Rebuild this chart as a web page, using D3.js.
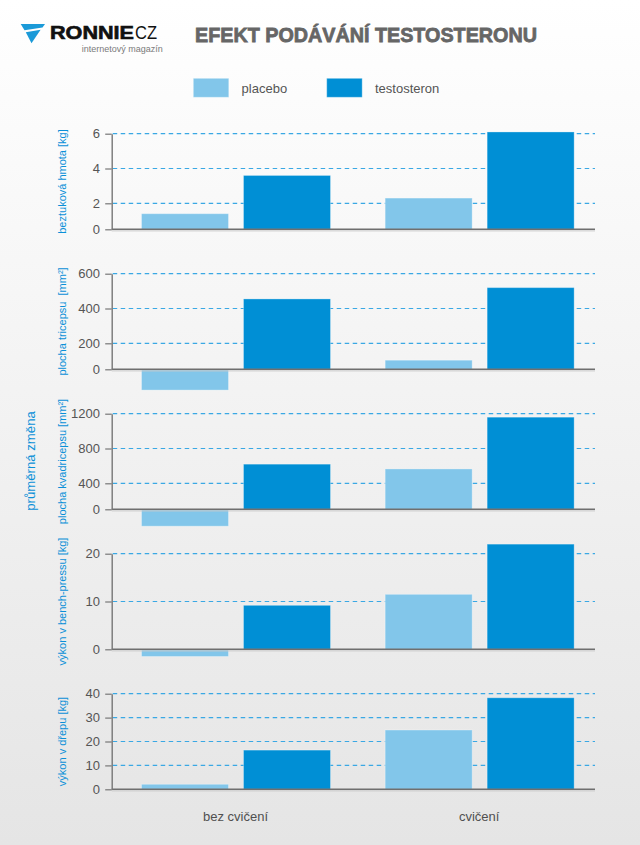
<!DOCTYPE html>
<html>
<head>
<meta charset="utf-8">
<script src="https://cdn.jsdelivr.net/npm/d3@7"></script>
<style>
html,body{margin:0;padding:0;}
svg{display:block;}
text{font-family:"Liberation Sans",Arial,Helvetica,sans-serif;}
</style>
</head>
<body>
<div id="chart"></div>
<script>
// ---- data ----
const categories = ["bez cvičení", "cvičení"];
const series = ["placebo", "testosteron"];
const metricLabels = ["beztuková hmota [kg]", "plocha tricepsu  [mm²]", "plocha kvadricepsu [mm²]", "výkon v bench-pressu [kg]", "výkon v dřepu [kg]"];
const placeboNoExercise = [1.2, -160, -260, -1.5, 2.1];
const testosteronNoExercise = [3.6, 455, 620, 9.2, 16.4];
const placeboExercise = [2.3, 70, 565, 11.5, 24.8];
const testosteronExercise = [6.1, 520, 1160, 22, 38.3];
const tickValues = [[0, 2, 4, 6], [0, 200, 400, 600], [0, 400, 800, 1200], [0, 10, 20], [0, 10, 20, 30, 40]];
const commonLabel = "průměrná změna";
const titleText = "EFEKT PODÁVÁNÍ TESTOSTERONU";

// ---- layout / style ----
const W = 640, H = 845;
const colors = {placebo: "#82c6ea", testosteron: "#008fd5"};
const axisX = 111.7, axisRight = 595;
const firstTop = 133.7, panelGap = 140, plotH = 95.6;
const zeroRatio = [0.747, 0.747, 0.747, 1, 1];
const heavy = "Lato,'Open Sans','Liberation Sans',Arial,sans-serif";

const svg = d3.select("#chart").append("svg").attr("width", W).attr("height", H);
const defs = svg.append("defs");
const grad = defs.append("linearGradient").attr("id", "bg").attr("x1", 0).attr("y1", 0).attr("x2", 0).attr("y2", 1);
grad.append("stop").attr("offset", "0%").attr("stop-color", "#ffffff");
grad.append("stop").attr("offset", "100%").attr("stop-color", "#e5e5e5");
svg.append("rect").attr("width", W).attr("height", H).attr("fill", "url(#bg)");

// logo
const logo = svg.append("g");
logo.append("path").attr("d", "M20.7,24 L45,24 L42.5,27.6 L24.5,30.2 Z").attr("fill", "#1b9ad8");
logo.append("path").attr("d", "M25.8,32.2 L40.6,29.8 L31.5,43.3 Z").attr("fill", "#1b9ad8");
logo.append("text").attr("x", 50).attr("y", 39.4).attr("font-size", 17.5).attr("font-weight", 900)
  .attr("font-family", heavy).attr("stroke", "#111").attr("stroke-width", 0.6)
  .attr("fill", "#111").attr("textLength", 84).attr("lengthAdjust", "spacingAndGlyphs").text("RONNIE");
logo.append("text").attr("x", 135).attr("y", 39.4).attr("font-size", 17.5)
  .attr("fill", "#111").attr("textLength", 22).attr("lengthAdjust", "spacingAndGlyphs").text("CZ");
logo.append("text").attr("x", 81.7).attr("y", 51.6).attr("font-size", 8.5)
  .attr("fill", "#7a7a7a").attr("textLength", 81).attr("lengthAdjust", "spacingAndGlyphs").text("internetový magazín");

// title
svg.append("text").attr("x", 195).attr("y", 41.6).attr("font-size", 21).attr("font-weight", 900)
  .attr("font-family", heavy).attr("stroke", "#666").attr("stroke-width", 0.8)
  .attr("fill", "#666").attr("textLength", 342).attr("lengthAdjust", "spacingAndGlyphs").text(titleText);

// legend
const legendX = [193.3, 326.7];
series.forEach((s, i) => {
  svg.append("rect").attr("x", legendX[i]).attr("y", 78.3).attr("width", 35.5).attr("height", 19)
    .attr("fill", colors[s]).attr("stroke", "rgba(255,255,255,0.35)").attr("stroke-width", 1);
  svg.append("text").attr("x", legendX[i] + 48.3).attr("y", 92.5).attr("font-size", 13)
    .attr("fill", "#555").text(s);
});

// common y label
svg.append("text").attr("transform", "translate(35,461) rotate(-90)").attr("text-anchor", "middle")
  .attr("font-size", 13.2).attr("fill", "#0a90d8").text(commonLabel);

const x0 = d3.scaleBand().domain(categories).range([114.2, 601.5]).padding(0);
const x1 = d3.scaleBand().domain(series).range([27.3, 216.3]).paddingInner(0.147).paddingOuter(0);

const valuesFor = [
  [placeboNoExercise, testosteronNoExercise],
  [placeboExercise, testosteronExercise]
];

metricLabels.forEach((label, p) => {
  const ticks = tickValues[p];
  const top = firstTop + p * panelGap;
  const base = top + plotH;
  const n = ticks.length - 1;
  const r = zeroRatio[p];
  const step = plotH / (n - 1 + r);
  const range = ticks.map((t, k) => k === 0 ? base : base - (r + k - 1) * step);
  const y = d3.scaleLinear().domain(ticks).range(range);

  const g = svg.append("g");

  // grid
  g.selectAll("line.grid").data(ticks.filter(t => t !== 0)).join("line")
    .attr("x1", axisX + 1).attr("x2", axisRight)
    .attr("y1", d => y(d)).attr("y2", d => y(d))
    .attr("stroke", "#3aa8e4").attr("stroke-width", 1.2).attr("stroke-dasharray", "4.5,3.5");

  // bars
  const rows = [];
  categories.forEach((c, ci) => series.forEach((s, si) => rows.push({c, s, v: valuesFor[ci][si][p]})));
  g.selectAll("rect.bar").data(rows).join("rect")
    .attr("x", d => x0(d.c) + x1(d.s))
    .attr("width", x1.bandwidth())
    .attr("y", d => Math.min(y(d.v), y(0)))
    .attr("height", d => Math.abs(y(d.v) - y(0)))
    .attr("fill", d => colors[d.s])
    .attr("stroke", "rgba(255,255,255,0.3)").attr("stroke-width", 1);

  // baseline
  g.append("line").attr("x1", axisX).attr("x2", axisRight).attr("y1", base + 1.6).attr("y2", base + 1.6)
    .attr("stroke", "#c9c9c9").attr("stroke-width", 1);
  g.append("line").attr("x1", axisX).attr("x2", axisRight).attr("y1", base).attr("y2", base)
    .attr("stroke", "#6f6f6f").attr("stroke-width", 1.6);

  // y axis
  const ax = g.append("g").attr("transform", `translate(${axisX},0)`)
    .call(d3.axisLeft(y).tickValues(ticks).tickSize(6.5).tickSizeOuter(0).tickPadding(5.2).tickFormat(d3.format("d")));
  ax.select(".domain").attr("stroke", "#777").attr("stroke-width", 1.4);
  ax.selectAll(".tick line").attr("stroke", "#777").attr("stroke-width", 1.2);
  ax.selectAll(".tick text").attr("font-size", 13).attr("fill", "#555")
    .attr("font-family", "'Liberation Sans',Arial,sans-serif");

  // axis title
  g.append("text").attr("transform", `translate(65.5,${(top + base) / 2}) rotate(-90)`)
    .attr("text-anchor", "middle").attr("font-size", 11).attr("fill", "#0a90d8")
    .style("white-space", "pre").text(label);
});

// category labels
svg.selectAll("text.cat").data(categories).join("text")
  .attr("x", d => x0(d) + x0.bandwidth() / 2 - 0.5).attr("y", 820.5)
  .attr("text-anchor", "middle").attr("font-size", 13).attr("fill", "#505050").text(d => d);
</script>
</body>
</html>
